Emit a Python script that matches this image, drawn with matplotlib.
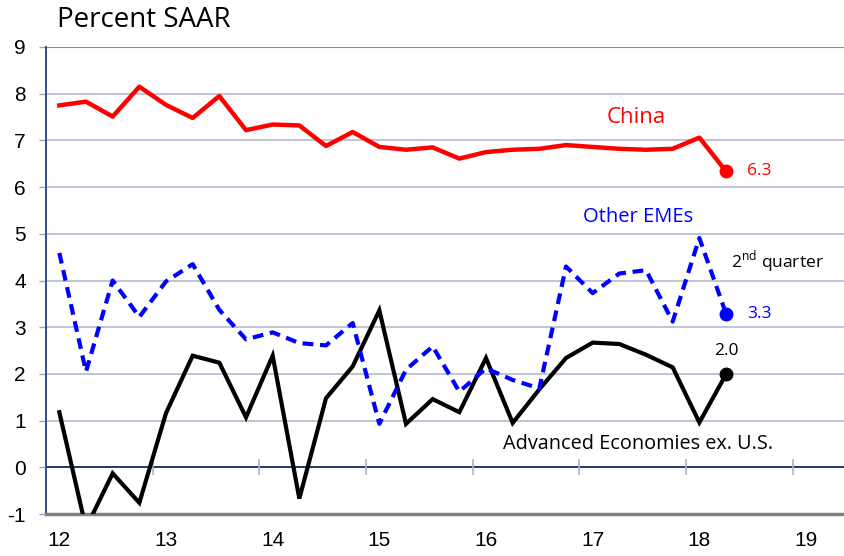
import matplotlib
matplotlib.use("Agg")
import matplotlib.pyplot as plt
import numpy as np

# Quarterly data 2012Q1 .. 2018Q2 (percent SAAR)
years = [12, 13, 14, 15, 16, 17, 18, 19]
china = [7.75, 7.83, 7.51, 8.15, 7.76, 7.48, 7.95, 7.22,
         7.34, 7.32, 6.88, 7.18, 6.86, 6.80, 6.85, 6.61,
         6.75, 6.80, 6.82, 6.90, 6.86, 6.82, 6.80, 6.82,
         7.06, 6.34]
other_emes = [4.59, 2.05, 4.00, 3.22, 3.98, 4.35, 3.37, 2.74,
              2.89, 2.66, 2.61, 3.09, 0.93, 2.09, 2.59, 1.62,
              2.12, 1.87, 1.69, 4.30, 3.73, 4.15, 4.22, 3.12,
              4.91, 3.29]
adv_ex_us = [1.18, -1.30, -0.13, -0.76, 1.16, 2.39, 2.24, 1.07,
             2.39, -0.67, 1.48, 2.16, 3.36, 0.93, 1.46, 1.18,
             2.34, 0.95, 1.67, 2.34, 2.67, 2.64, 2.41, 2.14,
             0.96, 1.99]
end_labels = ["6.3", "3.3", "2.0"]

x = years[0] + np.arange(len(china)) / 4.0

fig = plt.figure(figsize=(8.44, 5.56), dpi=100)
ax = fig.add_axes([46/844, 42/556, 1 - 46/844, (514 - 47)/556])

grid_c = "#b7bfd2"
for yv in range(0, 9):
    ax.axhline(yv, color=grid_c, lw=1.3, zorder=1)
ax.axhline(9, color="#8c8c8c", lw=1.5, zorder=1)
ax.axhline(0, color="#1f3a6b", lw=1.4, zorder=2)
# year boundary ticks on the zero line
for b in years[1:]:
    ax.plot([b - 0.125], [0], marker="|", ms=12, mew=1.2, color="#a9b4ca", zorder=2)

ax.plot(x, adv_ex_us, color="black", lw=3.0, zorder=3, solid_joinstyle="miter")
ax.plot(x, other_emes, color="#0000ff", lw=3.0, zorder=4, dashes=(2.6, 1.6))
ax.plot(x, china, color="#ff0000", lw=3.2, zorder=5)

ax.plot(x[-1], china[-1], "o", color="#ff0000", ms=9, zorder=6)
ax.plot(x[-1], other_emes[-1], "o", color="#0000ff", ms=9, zorder=6)
ax.plot(x[-1], adv_ex_us[-1], "o", color="black", ms=9, zorder=6)

ax.set_xlim(11.875, 11.875 + 798/106.67)
ax.set_ylim(-1, 9)
ax.set_yticks(range(-1, 10))
ax.set_yticklabels([str(v) for v in range(-1, 10)], fontsize=15, family="Liberation Sans")
ax.set_xticks(years)
ax.set_xticklabels([str(v) for v in years], fontsize=15, family="Liberation Sans")
ax.tick_params(axis="x", length=0, pad=12)
ax.tick_params(axis="y", length=5, width=1, color="#9aa6c0", pad=9.5)

for s in ["top", "right"]:
    ax.spines[s].set_visible(False)
ax.spines["left"].set_color("#2f4f8a")
ax.spines["left"].set_linewidth(1.4)
ax.spines["bottom"].set_color("#808080")
ax.spines["bottom"].set_linewidth(2.5)

tf = "Open Sans"
fig.text(57/844, 1 - 20/556, "Percent SAAR", fontsize=20, family=tf, va="center", ha="left")
ax.text(17.41, 7.48, "China", color="#ff0000", fontsize=16, family=tf, ha="center", va="center")
ax.text(x[-1] + 0.2, china[-1], end_labels[0], color="#ff0000", fontsize=12.5, family=tf, ha="left", va="center")
ax.text(17.43, 5.37, "Other EMEs", color="#0000ff", fontsize=14.5, family=tf, ha="center", va="center")
ax.text(18.3, 4.4, "2$^{\\mathregular{nd}}$ quarter", color="black", fontsize=12.5, family=tf, ha="left", va="center")
ax.text(x[-1] + 0.2, other_emes[-1], end_labels[1], color="#0000ff", fontsize=12.5, family=tf, ha="left", va="center")
ax.text(x[-1], 2.5, end_labels[2], color="black", fontsize=12.5, family=tf, ha="center", va="center")
ax.text(17.43, 0.5, "Advanced Economies ex. U.S.", color="black", fontsize=14.3, family=tf, ha="center", va="center")

fig.savefig("out.png", dpi=100)
